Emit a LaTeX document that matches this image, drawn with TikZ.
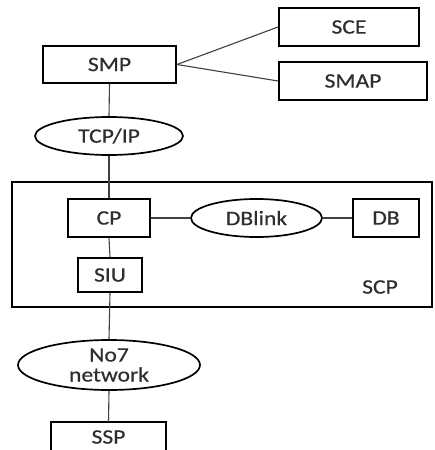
\documentclass[tikz,border=0pt]{standalone}
\usepackage{fontspec}
\setmainfont[FakeStretch=1.15,FakeBold=0.6]{Carlito}
\usetikzlibrary{shapes.geometric}
\begin{document}
\begin{tikzpicture}[x=1pt,y=-1pt,
  every node/.style={font=\fontsize{20.5}{22}\selectfont, text=black!82},
  box/.style={draw=black, line width=1.9pt, rectangle, inner sep=0pt},
  oval/.style={draw=black, line width=1.7pt, ellipse, inner sep=0pt},
  link/.style={draw=black!75, line width=1.1pt}]
\useasboundingbox (0,0) rectangle (435,450);
\clip (0,0) rectangle (435,450);

% service management side
\node[box, minimum width=133pt, minimum height=37pt] (smp) at (109.5,64.5) {SMP};
\node[box, minimum width=140pt, minimum height=38pt] (sce) at (349,27) {SCE};
\node[box, minimum width=148pt, minimum height=38pt] (smap) at (353,81) {SMAP};
\node[oval, minimum width=148pt, minimum height=38pt] (tcp) at (109,136) {TCP/IP};

% service control point frame
\draw[line width=1.9pt] (12,182) rectangle (432,307);
\node (scp) at (380,287) {SCP};
\node[box, minimum width=82pt, minimum height=38pt] (cp) at (109,218) {CP};
\node[oval, minimum width=131pt, minimum height=38pt] (dbl) at (256.5,218) {DBlink};
\node[box, minimum width=66pt, minimum height=38pt] (db) at (386,218) {DB};
\node[box, minimum width=64pt, minimum height=34pt] (siu) at (110,275) {SIU};

% signalling network and switching point (its box runs past the lower edge)
\node[oval, minimum width=182pt, minimum height=50pt, align=center,
  font=\fontsize{20.5}{20}\selectfont] (no7) at (109,365) {No7\\network};
\node[inner sep=0pt, minimum width=115pt, minimum height=30pt] (ssp) at (108.5,437) {SSP};
\draw[line width=1.9pt] ([yshift=-4pt]ssp.south west) |- (ssp.north) -| ([yshift=-4pt]ssp.south east);

% connectors
\draw[link] (smp.east) -- (sce.west);
\draw[link] (smp.east) -- (smap.west);
\draw[link] (smp.south) -- (tcp.north);
\draw[link] (tcp.south) -- (cp.north);
\draw[link] (cp.east) -- (dbl.west);
\draw[link] (dbl.east) -- (db.west);
\draw[link] (cp.south) -- (siu.north);
\draw[link] (siu.south) -- (no7.north);
\draw[link] (no7.south) -- (ssp.north);
\end{tikzpicture}
\end{document}
